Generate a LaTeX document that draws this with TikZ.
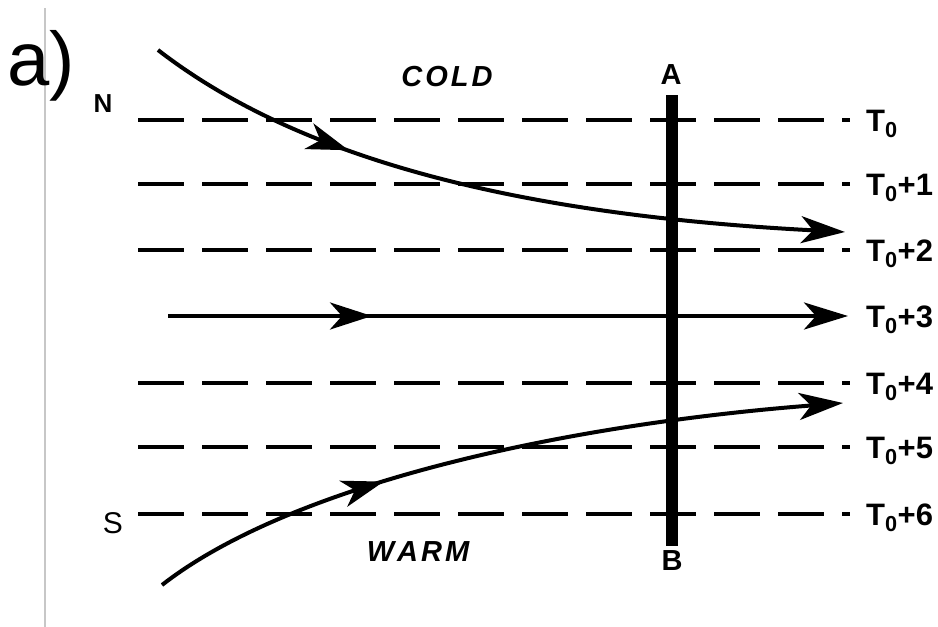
\documentclass[tikz,border=0pt]{standalone}
\usepackage{fontspec}
\setmainfont{Liberation Sans}
\usetikzlibrary{arrows.meta,decorations.markings}
\begin{document}
\begin{tikzpicture}[x=1pt,y=-1pt,
  iso/.style={line width=3.4pt,dash pattern=on 46pt off 18pt},
  flow/.style={line width=4pt},
  tip/.style={-{Stealth[length=44pt,width=27pt,inset=12pt]}},
  midtip/.style={postaction={decorate},decoration={markings,mark=at position #1 with {\arrow{Stealth[length=42pt,width=27pt,inset=12pt]}}}},
  lab/.style={font=\fontsize{31}{33}\selectfont\bfseries,anchor=base west,inner sep=0pt},
  endlab/.style={font=\fontsize{29}{31}\selectfont\bfseries,inner sep=0pt},
  zone/.style={font=\fontsize{29}{31}\selectfont\bfseries\itshape,inner sep=0pt}]
\useasboundingbox (0,0) rectangle (938,627);
\fill[white] (0,0) rectangle (938,627);
% margin rule
\draw[line width=1.2pt,black!22] (45,8) coordinate (g1) -- (45,627) coordinate (g2);
\node[font=\fontsize{76}{78}\selectfont,inner sep=0pt] (alab) at (41,66) {a)};
\node[font=\fontsize{26}{28}\selectfont\bfseries,inner sep=0pt] (N) at (103,104) {N};
\node[font=\fontsize{30}{32}\selectfont,inner sep=0pt] (S) at (113,523) {S};
\node[zone] (cold) at (447,77) {C\kern3pt O\kern3pt L\kern3pt D};
\node[zone] (warm) at (418,552) {W\kern3pt A\kern3pt R\kern3pt M};
% isotherms
\foreach \y/\n in {120/0,184/1,250/2,383/4,447/5,514/6}{
  \coordinate (l\n) at (138,\y);
  \coordinate (r\n) at (850,\y);
  \draw[iso] (l\n) -- (r\n);
}
\coordinate (l3) at (168,316);
\coordinate (r3) at (848,316);
% labels
\node[lab] (t0) at (866,131) {T\textsubscript{0}};
\node[lab] (t1) at (866,195) {T\textsubscript{0}+1};
\node[lab] (t2) at (866,261) {T\textsubscript{0}+2};
\node[lab] (t3) at (866,327) {T\textsubscript{0}+3};
\node[lab] (t4) at (866,394) {T\textsubscript{0}+4};
\node[lab] (t5) at (866,458) {T\textsubscript{0}+5};
\node[lab] (t6) at (866,525) {T\textsubscript{0}+6};
% flows
\coordinate (c1s) at (158,50);
\coordinate (c1e) at (845,232);
\draw[flow,tip,midtip=0.3] (c1s) .. controls (300,160) and (520,215) .. (c1e);
\draw[flow,tip,midtip=0.30] (l3) -- (r3);
\coordinate (c2s) at (162,585);
\coordinate (c2e) at (843,403);
\draw[flow,tip,midtip=0.345] (c2s) .. controls (290,485) and (560,425) .. (c2e);
% section A-B
\node[endlab] (A) at (671,75) {A};
\node[endlab] (B) at (672,561) {B};
\coordinate (bt) at (672,95);
\coordinate (bb) at (672,546);
\draw[line width=12pt] (bt) -- (bb);
\end{tikzpicture}
\end{document}
